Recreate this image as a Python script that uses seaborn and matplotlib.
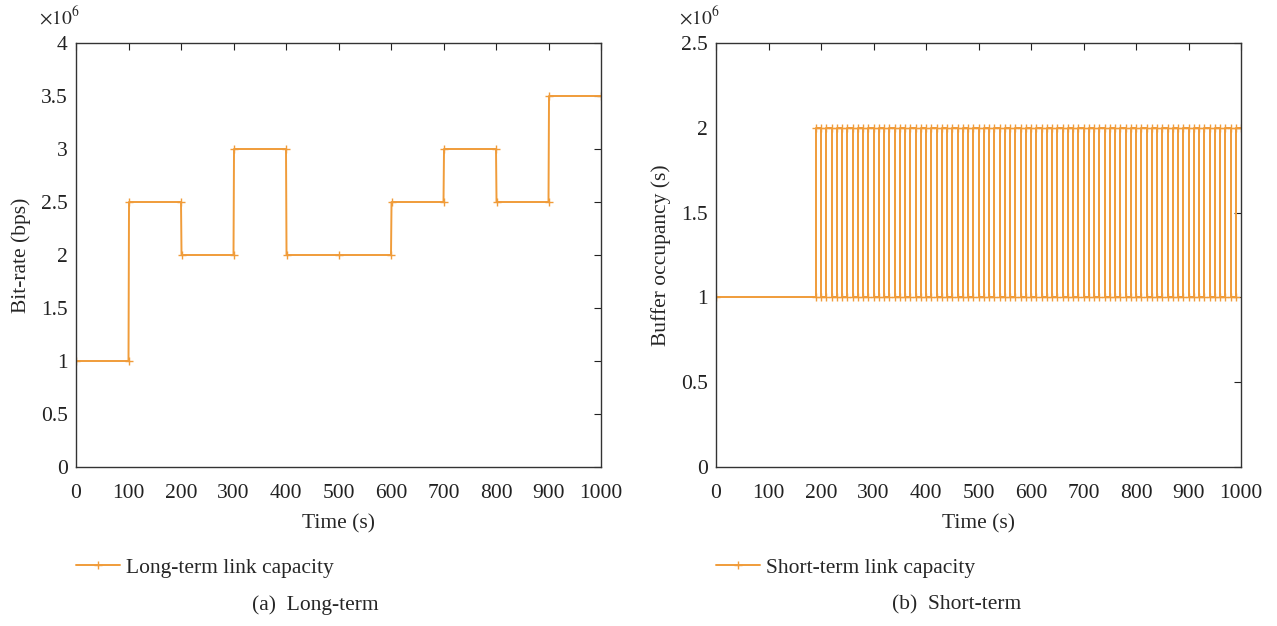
import matplotlib
matplotlib.use("Agg")
import matplotlib.pyplot as plt
import seaborn as sns
import pandas as pd
import numpy as np
from matplotlib.ticker import FuncFormatter, MultipleLocator

# ---- data ----
long_t = [0, 100, 101, 200, 201, 300, 301, 400, 401, 500, 600, 601, 700, 701, 800, 801, 900, 901, 1000]
long_v = [1.0, 1.0, 2.5, 2.5, 2.0, 2.0, 3.0, 3.0, 2.0, 2.0, 2.0, 2.5, 2.5, 3.0, 3.0, 2.5, 2.5, 3.5, 3.5]  # x1e6 bps

# short-term: switching instants (s) and level held after each switch (x1e6)
short_switch_t = [190, 200, 210, 220, 230, 240, 250, 260, 270, 280,
                  290, 300, 310, 320, 330, 340, 350, 360, 370, 380,
                  390, 400, 410, 420, 430, 440, 450, 460, 470, 480,
                  490, 500, 510, 520, 530, 540, 550, 560, 570, 580,
                  590, 600, 610, 620, 630, 640, 650, 660, 670, 680,
                  690, 700, 710, 720, 730, 740, 750, 760, 770, 780,
                  790, 800, 810, 820, 830, 840, 850, 860, 870, 880,
                  890, 900, 910, 920, 930, 940, 950, 960, 970, 980,
                  990]
short_levels = [2, 1, 2, 1, 2, 1, 2, 1, 2, 1,
                2, 1, 2, 1, 2, 1, 2, 1, 2, 1,
                2, 1, 2, 1, 2, 1, 2, 1, 2, 1,
                2, 1, 2, 1, 2, 1, 2, 1, 2, 1,
                2, 1, 2, 1, 2, 1, 2, 1, 2, 1,
                2, 1, 2, 1, 2, 1, 2, 1, 2, 1,
                2, 1, 2, 1, 2, 1, 2, 1, 2, 1,
                2, 1, 2, 1, 2, 1, 2, 1, 2, 1,
                2]
short_start_level = 1
short_end_t = 1000

x_ticks = [0, 100, 200, 300, 400, 500, 600, 700, 800, 900, 1000]

# build step points for short-term series
st = [0]
sv = [short_start_level]
prev = short_start_level
for t, lv in zip(short_switch_t, short_levels):
    st += [t, t]
    sv += [prev, lv]
    prev = lv
st.append(short_end_t)
sv.append(prev)

df_long = pd.DataFrame({"t": long_t, "v": np.array(long_v) * 1e6, "s": "Long-term link capacity"})
df_short = pd.DataFrame({"t": st, "v": np.array(sv, dtype=float) * 1e6, "s": "Short-term link capacity"})

sns.set_theme(style="white")
plt.rcParams["font.family"] = ["Liberation Serif", "DejaVu Serif"]
plt.rcParams["mathtext.fontset"] = "stix"
plt.rcParams["font.size"] = 15

color = "#F09C3A"
FS = 15.5

fig = plt.figure(figsize=(12.77, 6.26), dpi=100)
W, H = 1277, 626
ax1 = fig.add_axes([76 / W, 1 - 467 / H, 525 / W, 424 / H])
ax2 = fig.add_axes([716 / W, 1 - 467 / H, 525 / W, 424 / H])

kw = dict(x="t", y="v", hue="s", palette=[color], sort=False, estimator=None,
          marker="+", markersize=6, markeredgewidth=1.0, markeredgecolor=color,
          linewidth=1.4)
sns.lineplot(data=df_long, ax=ax1, **kw)
sns.lineplot(data=df_short, ax=ax2, **kw)

fmt = FuncFormatter(lambda v, p: f"{v / 1e6:g}")
for ax, ymax, ylabel in [(ax1, 4e6, "Bit-rate (bps)"), (ax2, 2.5e6, "Buffer occupancy (s)")]:
    ax.set_xlim(0, 1000)
    ax.set_ylim(0, ymax)
    ax.set_xticks(x_ticks)
    ax.yaxis.set_major_locator(MultipleLocator(0.5e6))
    ax.yaxis.set_major_formatter(fmt)
    ax.set_xlabel("Time (s)", fontsize=FS, labelpad=8)
    ax.set_ylabel(ylabel, fontsize=FS)
    ax.tick_params(direction="in", top=True, right=True, length=5, width=0.8,
                   labelsize=FS, colors="#222222", pad=6)
    ax.tick_params(axis="x", pad=12)
    for sp in ax.spines.values():
        sp.set_visible(True)
        sp.set_color("#333333")
        sp.set_linewidth(1.0)
    ax.text(-0.07, 1.035, r"$\times10^{6}$", transform=ax.transAxes, fontsize=14,
            ha="left", va="bottom")
    leg = ax.legend(loc="center left", bbox_to_anchor=(0, -0.238), frameon=False,
                    borderaxespad=0, borderpad=0, handlelength=2.05, handletextpad=0.25,
                    fontsize=FS)
    for lh in leg.get_lines():
        lh.set_linewidth(1.4)
        lh.set_markeredgecolor(color)

ax1.yaxis.set_label_coords(-0.086, 0.5)
ax2.yaxis.set_label_coords(-0.086, 0.5)

fig.text(315 / W, 1 - 605 / H, "(a)  Long-term", ha="center", va="center", fontsize=FS)
fig.text(957 / W, 1 - 605 / H, "(b)  Short-term", ha="center", va="center", fontsize=FS)

fig.savefig("out.png", dpi=100)
